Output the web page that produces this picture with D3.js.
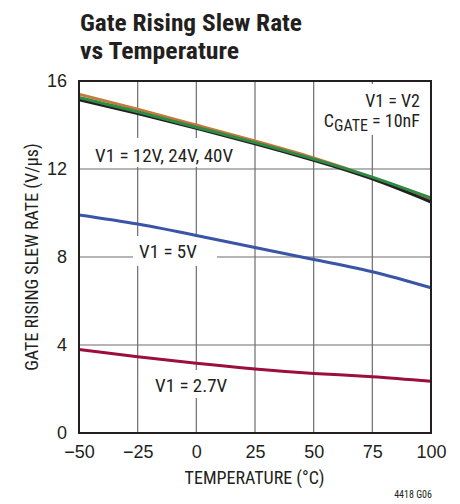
<!DOCTYPE html>
<html>
<head>
<meta charset="utf-8">
<script src="https://cdn.jsdelivr.net/npm/d3@7"></script>
<style>
  html, body { margin: 0; padding: 0; background: #fff; }
  svg { display: block; }
  text { font-family: "Liberation Sans Narrow", "Arial Narrow", "Roboto Condensed", sans-serif; fill: #231f20; }
</style>
</head>
<body>
<script>
const temperatures = [-50, -25, 0, 25, 50, 75, 100];
const v40 = [15.40, 14.72, 14.00, 13.27, 12.50, 11.60, 10.58];
const v24 = [15.25, 14.60, 13.90, 13.20, 12.45, 11.63, 10.68];
const v12 = [15.15, 14.52, 13.85, 13.15, 12.40, 11.55, 10.50];
const v5  = [9.91, 9.50, 8.98, 8.43, 7.89, 7.33, 6.60];
const v27 = [3.80, 3.47, 3.17, 2.91, 2.71, 2.56, 2.35];
const seriesNames = ["40V", "24V", "12V", "5V", "2.7V"];
const seriesColors = ["#c47a3c", "#2f8a45", "#231f20", "#3a55a8", "#9b0f3a"];
const xTicks = [-50, -25, 0, 25, 50, 75, 100];
const yTicks = [0, 4, 8, 12, 16];
const titleLines = ["Gate Rising Slew Rate", "vs Temperature"];

const W = 460, H = 504;
const m = { left: 79, right: 431, top: 81, bottom: 433 };

const svg = d3.select("body").append("svg").attr("width", W).attr("height", H);

const x = d3.scaleLinear().domain([-50, 100]).range([m.left, m.right]);
const y = d3.scaleLinear().domain([0, 16]).range([m.bottom, m.top]);

// title
svg.append("text").attr("x", 80).attr("y", 31).attr("font-size", 24).attr("font-weight", "bold")
  .attr("textLength", 222).attr("lengthAdjust", "spacingAndGlyphs").text(titleLines[0]);
svg.append("text").attr("x", 80).attr("y", 59).attr("font-size", 24).attr("font-weight", "bold")
  .attr("textLength", 159).attr("lengthAdjust", "spacingAndGlyphs").text(titleLines[1]);

// grid
const grid = svg.append("g").attr("stroke", "#6d6d6d").attr("stroke-width", 1.2);
xTicks.slice(1, -1).forEach(t => {
  grid.append("line").attr("x1", x(t)).attr("x2", x(t)).attr("y1", m.top).attr("y2", m.bottom);
});
yTicks.slice(1, -1).forEach(t => {
  grid.append("line").attr("x1", m.left).attr("x2", m.right).attr("y1", y(t)).attr("y2", y(t));
});

// axes (labels only, no tick marks)
const xAxis = d3.axisBottom(x).tickValues(xTicks).tickSize(0).tickPadding(12)
  .tickFormat(d => d < 0 ? "\u2212" + Math.abs(d) : d);
const gx = svg.append("g").attr("transform", `translate(0,${m.bottom})`).call(xAxis);
gx.select(".domain").remove();
gx.selectAll("text").attr("font-size", 18).style("font-family", "Liberation Sans Narrow, Arial Narrow, sans-serif").attr("fill", "#231f20");

const yAxis = d3.axisLeft(y).tickValues(yTicks).tickSize(0).tickPadding(12);
const gy = svg.append("g").attr("transform", `translate(${m.left},0)`).call(yAxis);
gy.select(".domain").remove();
gy.selectAll("text").attr("font-size", 18).style("font-family", "Liberation Sans Narrow, Arial Narrow, sans-serif").attr("fill", "#231f20");

// label background boxes (hide grid behind labels)
const boxes = [
  [88, 138, 152, 29],
  [133, 236, 84, 30],
  [150, 370, 82, 28],
  [318, 84, 110, 51]
];
boxes.forEach(b => svg.append("rect").attr("x", b[0]).attr("y", b[1]).attr("width", b[2]).attr("height", b[3]).attr("fill", "#fff"));

// lines
const line = d3.line().curve(d3.curveNatural);
const order = [0, 2, 1, 3, 4];
const seriesValues = [v40, v24, v12, v5, v27];
order.forEach(i => {
  const vals = seriesValues[i];
  svg.append("path")
    .attr("d", line(temperatures.map((t, k) => [x(t), y(vals[k])])))
    .attr("fill", "none").attr("stroke", seriesColors[i]).attr("stroke-width", 3);
});

// frame
svg.append("rect").attr("x", m.left).attr("y", m.top).attr("width", m.right - m.left).attr("height", m.bottom - m.top)
  .attr("fill", "none").attr("stroke", "#231f20").attr("stroke-width", 2);

// annotations
svg.append("text").attr("x", 95).attr("y", 162).attr("font-size", 19).text("V1 = 12V, 24V, 40V");
svg.append("text").attr("x", 139).attr("y", 258).attr("font-size", 19).text("V1 = 5V");
svg.append("text").attr("x", 155).attr("y", 392).attr("font-size", 19).text("V1 = 2.7V");
svg.append("text").attr("x", 420).attr("y", 107).attr("font-size", 18).attr("text-anchor", "end").text("V1 = V2");
const cg = svg.append("text").attr("x", 420).attr("y", 127).attr("font-size", 18).attr("text-anchor", "end");
cg.append("tspan").text("C");
cg.append("tspan").attr("dy", 4).attr("font-size", 16).text("GATE");
cg.append("tspan").attr("dy", -4).text(" = 10nF");

// axis titles
svg.append("text").attr("x", 254.5).attr("y", 484).attr("font-size", 18).attr("text-anchor", "middle").text("TEMPERATURE (\u00B0C)");
svg.append("text").attr("transform", "translate(38,257) rotate(-90)").attr("font-size", 18).attr("text-anchor", "middle")
  .text("GATE RISING SLEW RATE (V/\u00B5s)");
svg.append("text").attr("x", 432).attr("y", 498).attr("font-size", 10).attr("text-anchor", "end").text("4418 G06");
</script>
</body>
</html>
